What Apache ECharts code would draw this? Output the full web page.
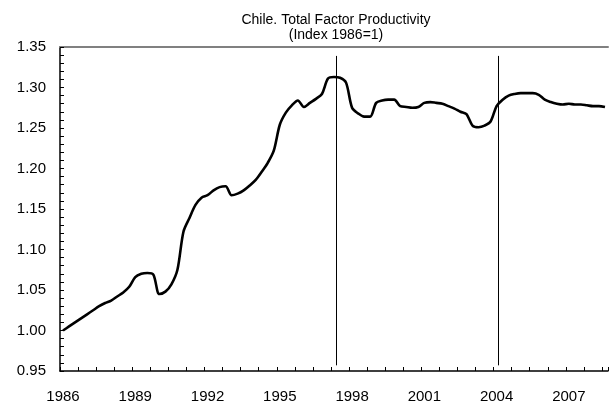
<!DOCTYPE html>
<html><head><meta charset="utf-8">
<script src="https://cdn.jsdelivr.net/npm/echarts@6/dist/echarts.min.js"></script>
<style>html,body{margin:0;padding:0;background:#fff}#c{width:609px;height:405px}</style>
</head><body><div id="c"></div>
<script>
// Quarterly TFP index, 1986Q1 .. 2008Q3
const startYear = 1986;
const tfp = [
 1.000,1.005,1.010,1.015,1.020,1.025,1.030,1.034,1.037,1.042,1.047,1.054,
 1.066,1.070,1.071,1.069,1.045,1.048,1.057,1.075,1.122,1.139,1.155,1.164,
 1.167,1.173,1.177,1.178,1.167,1.169,1.173,1.179,1.186,1.196,1.207,1.222,
 1.254,1.269,1.278,1.284,1.276,1.281,1.286,1.292,1.311,1.313,1.312,1.306,
 1.275,1.268,1.264,1.264,1.281,1.284,1.285,1.285,1.277,1.276,1.275,1.276,
 1.281,1.282,1.281,1.280,1.277,1.274,1.270,1.267,1.253,1.251,1.253,1.258,
 1.277,1.285,1.290,1.292,1.293,1.293,1.293,1.291,1.285,1.282,1.280,1.279,
 1.280,1.279,1.279,1.278,1.277,1.277,1.276
];
const quarters = tfp.map((v, i) => (startYear + Math.floor(i / 4)) + 'Q' + (i % 4 + 1));
const yTicks = [0.95, 1.00, 1.05, 1.10, 1.15, 1.20, 1.25, 1.30, 1.35];
const vLines = [1997.47, 2004.2];       // vertical reference lines (in years)
const vLineRange = [0.957, 1.339];
const titleText = 'Chile. Total Factor Productivity';
const subText = '(Index 1986=1)';

const font = 'Liberation Sans, Arial, sans-serif';
const chart = echarts.init(document.getElementById('c'), null, {renderer: 'canvas'});
chart.setOption({
  animation: false,
  backgroundColor: '#fff',
  title: {
    text: titleText, subtext: subText, left: 331, textAlign: 'center', top: 8, itemGap: 1,
    textStyle: {fontFamily: font, fontSize: 14, fontWeight: 'normal', color: '#000'},
    subtextStyle: {fontFamily: font, fontSize: 14, color: '#000'}
  },
  grid: {left: 60, right: 1, top: 47, bottom: 34},
  xAxis: [{
    type: 'category', data: quarters, boundaryGap: true,
    axisLine: {lineStyle: {color: '#000', width: 1.5}},
    axisTick: {show: true, inside: true, length: 4, interval: 2, lineStyle: {color: '#000'}},
    axisLabel: {interval: 11, margin: 18, fontFamily: font, fontSize: 15, color: '#000',
      formatter: v => v.slice(0, 4)},
    splitLine: {show: false}
  }, {
    type: 'value', position: 'top', min: startYear, max: startYear + tfp.length / 4,
    axisLine: {show: true, onZero: false, lineStyle: {color: '#808080', width: 2}},
    axisTick: {show: false}, axisLabel: {show: false}, splitLine: {show: false}
  }],
  yAxis: {
    type: 'value', min: yTicks[0], max: yTicks[yTicks.length - 1], interval: 0.05,
    axisLine: {show: true, lineStyle: {color: '#000', width: 1.5}},
    axisTick: {show: true, inside: true, length: 4, lineStyle: {color: '#000'}},
    minorTick: {show: true, splitNumber: 5, length: 4, lineStyle: {color: '#000'}},
    axisLabel: {fontFamily: font, fontSize: 15, color: '#000', margin: 14,
      formatter: v => v.toFixed(2)},
    splitLine: {show: false}
  },
  series: [{
    type: 'line', data: tfp, xAxisIndex: 0, yAxisIndex: 0,
    showSymbol: false, smooth: 0.3,
    lineStyle: {color: '#000', width: 2.6}
  }, {
    type: 'line', data: [], xAxisIndex: 1, yAxisIndex: 0,
    markLine: {
      silent: true, symbol: 'none', label: {show: false},
      lineStyle: {color: '#000', width: 1, type: 'solid'},
      data: vLines.map(x => [{coord: [x, vLineRange[0]]}, {coord: [x, vLineRange[1]]}])
    }
  }]
});
</script></body></html>
